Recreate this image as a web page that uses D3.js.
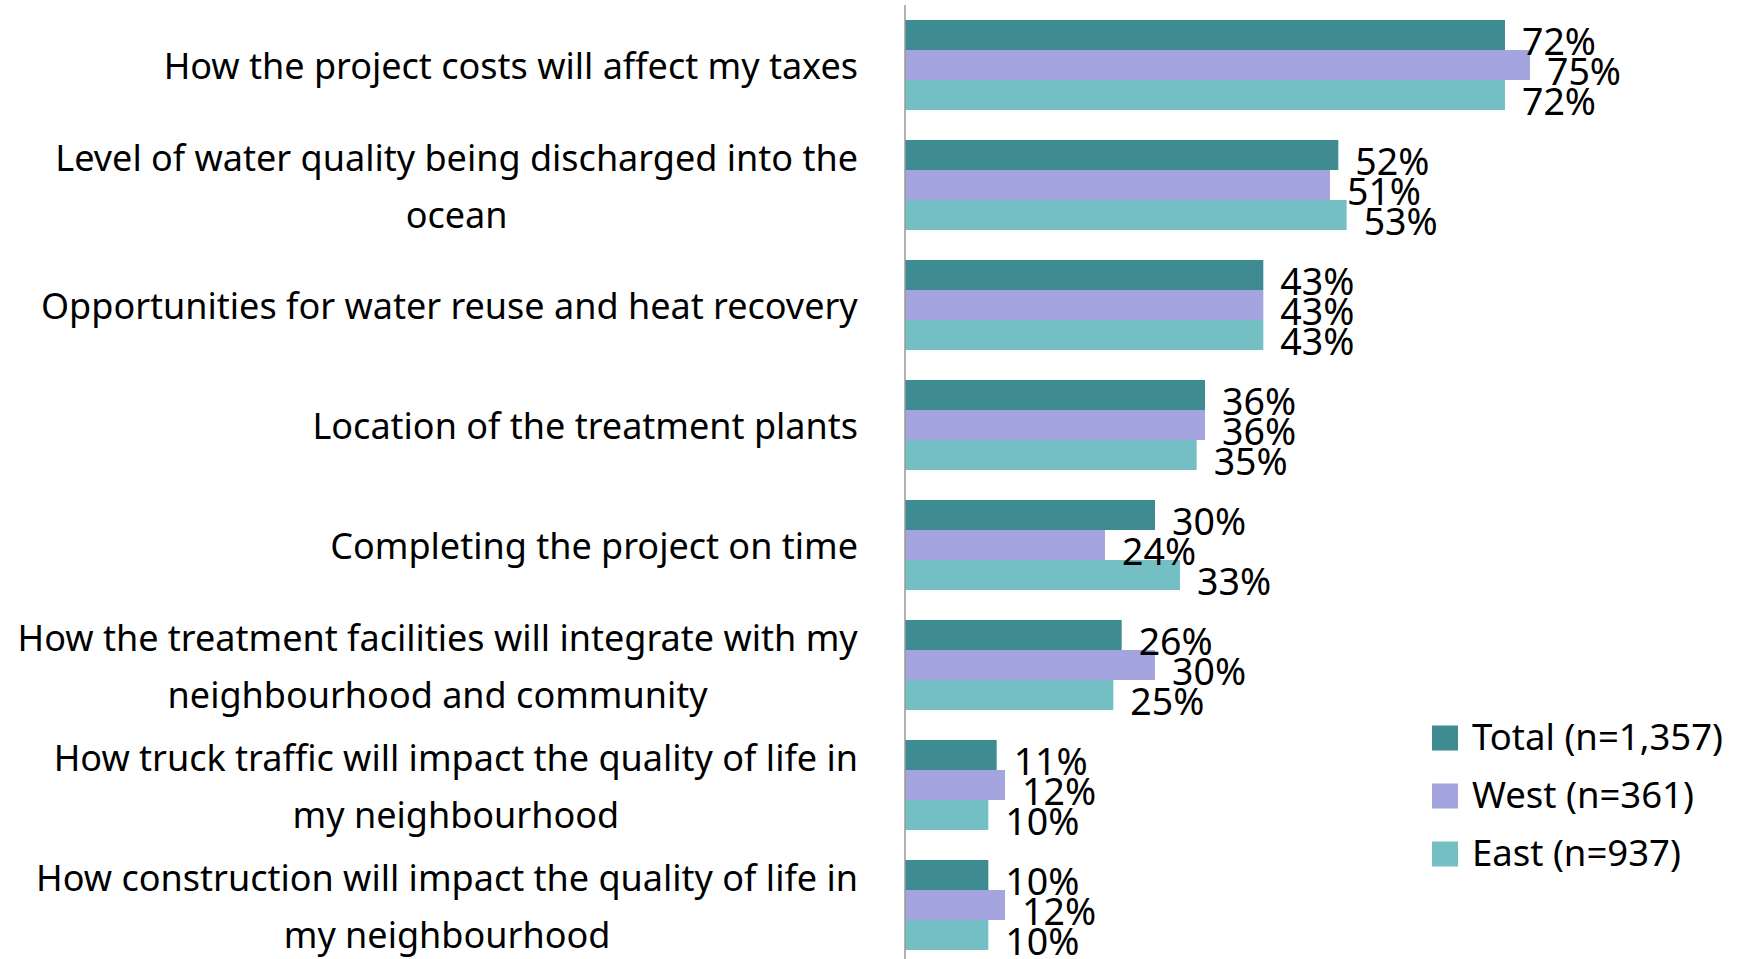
<!DOCTYPE html>
<html>
<head>
<meta charset="utf-8">
<script src="https://cdn.jsdelivr.net/npm/d3@7"></script>
<style>
  html, body { margin: 0; padding: 0; background: #fff; }
  svg { display: block; }
  text { font-family: "Noto Sans", "Open Sans", sans-serif; fill: #000; }
</style>
</head>
<body>
<svg id="chart" width="1741" height="959"></svg>
<script>
const categories = [
  "How the project costs will affect my taxes",
  "Level of water quality being discharged into the\nocean",
  "Opportunities for water reuse and heat recovery",
  "Location of the treatment plants",
  "Completing the project on time",
  "How the treatment facilities will integrate with my\nneighbourhood and community",
  "How truck traffic will impact the quality of life in\nmy neighbourhood",
  "How construction will impact the quality of life in\nmy neighbourhood"
];
const seriesNames = ["Total (n=1,357)", "West (n=361)", "East (n=937)"];
const totalValues = [72, 52, 43, 36, 30, 26, 11, 10];
const westValues  = [75, 51, 43, 36, 24, 30, 12, 12];
const eastValues  = [72, 53, 43, 35, 33, 25, 10, 10];
const seriesColors = ["#3e8b91", "#a4a4de", "#74bfc4"];

const seriesValues = [totalValues, westValues, eastValues];

const svg = d3.select("#chart");
const axisX = 905;

const x = d3.scaleLinear().domain([0, 100]).range([axisX, axisX + 833.3]);
const y = d3.scaleBand().domain(d3.range(categories.length))
  .range([5, 965]).paddingInner(0.25).paddingOuter(0.125);
const ySub = d3.scaleBand().domain(d3.range(seriesNames.length))
  .range([0, y.bandwidth()]);

const rows = [];
categories.forEach((c, i) => {
  seriesValues.forEach((vals, s) => rows.push({ cat: i, s, v: vals[i] }));
});

svg.append("g").selectAll("rect").data(rows).join("rect")
  .attr("x", x(0))
  .attr("y", d => y(d.cat) + ySub(d.s))
  .attr("width", d => x(d.v) - x(0))
  .attr("height", ySub.bandwidth())
  .attr("fill", d => seriesColors[d.s]);

svg.append("g").selectAll("text").data(rows).join("text")
  .attr("x", d => x(d.v) + 17)
  .attr("y", d => y(d.cat) + ySub(d.s) + ySub.bandwidth() / 2 + 20)
  .attr("font-size", 37.5)
  .text(d => d.v + "%");

// axis line
svg.append("line")
  .attr("x1", axisX).attr("x2", axisX)
  .attr("y1", 5).attr("y2", 959)
  .attr("stroke", "#999").attr("stroke-width", 1.5);

// category labels
const lineH = 57;
const labelG = svg.append("g");
categories.forEach((c, i) => {
  const lines = c.split("\n");
  const cy = y(i) + y.bandwidth() / 2;
  const t = labelG.append("text")
    .attr("font-size", 36)
    .attr("text-anchor", "middle");
  lines.forEach((ln, k) => {
    t.append("tspan")
      .attr("x", 0)
      .attr("y", cy + (k - (lines.length - 1) / 2) * lineH + 14)
      .text(ln);
  });
  // right-align the centered block at x = 858
  const bb = t.node().getBBox();
  t.attr("transform", `translate(${858 - bb.width / 2},0)`);
});

// legend
const leg = svg.append("g");
seriesNames.forEach((n, s) => {
  const cy = 738 + s * 58;
  leg.append("rect")
    .attr("x", 1432).attr("y", cy - 12.5)
    .attr("width", 26).attr("height", 25)
    .attr("fill", seriesColors[s]);
  leg.append("text")
    .attr("x", 1472).attr("y", cy + 12)
    .attr("font-size", 36.5)
    .text(n);
});
</script>
</body>
</html>
